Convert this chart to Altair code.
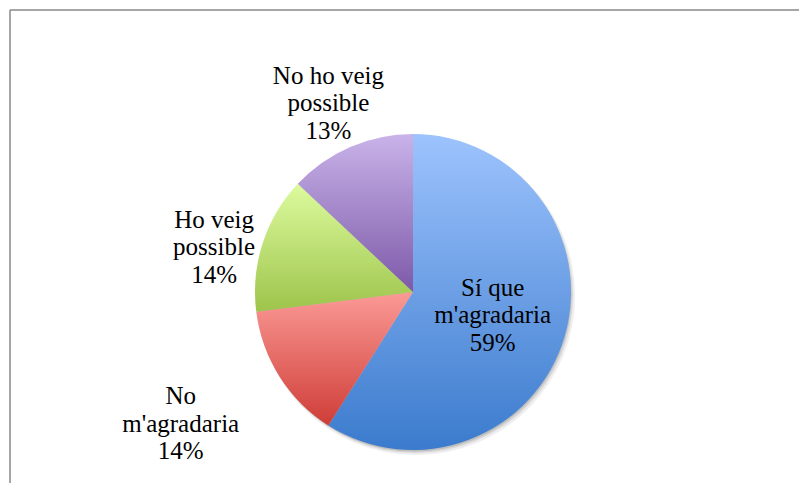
import altair as alt
import pandas as pd

categories = ["Sí que m'agradaria", "No m'agradaria", "Ho veig possible", "No ho veig possible"]
values = [59, 14, 14, 13]
label_text = ["Sí que\nm'agradaria\n59%", "No\nm'agradaria\n14%", "Ho veig\npossible\n14%", "No ho veig\npossible\n13%"]
order = [0, 1, 2, 3]

top_colors = ["#9dc3fd", "#fb9a96", "#dcfb9e", "#c9b3e9"]
bottom_colors = ["#3b7bcd", "#cf3d37", "#9ec44b", "#7d59a8"]

# label placement (style): radius from the centre, and fine offsets
label_radius = [83, 268, 206, 208]
label_dx = [0, -6, -3, -2]
label_dy = [0, -12, 19, 2]

df = pd.DataFrame({"cat": categories, "value": values, "label": label_text, "order": order})

W, H = 791, 475
CX, CY = 405, 284
R = 158
LH = 27.5

base = alt.Chart(df).transform_stack(
    stack="value", as_=["start", "end"], groupby=[], sort=[alt.SortField("order", order="ascending")]
).transform_calculate(mid="(datum.start + datum.end) / 2")

tscale = alt.Scale(domain=[0, 100], range=[0, 6.283185307])

layers = []

# soft shadow under the pie
shadow_data = alt.Chart(pd.DataFrame({"s": [0]}))
for dx, dy, op, rr in [(3, 4, 0.10, R + 1), (2, 3, 0.15, R), (1, 2, 0.2, R - 0.5)]:
    layers.append(
        shadow_data.mark_arc(color="#555555", opacity=op, radius=rr).encode(
            theta=alt.value(0), theta2=alt.value(6.283185307),
            x=alt.value(CX + dx), y=alt.value(CY + dy)
        )
    )

for i, c in enumerate(categories):
    grad = alt.Gradient(
        gradient="linear",
        stops=[alt.GradientStop(color=top_colors[i], offset=0), alt.GradientStop(color=bottom_colors[i], offset=1)],
        x1=0, x2=0, y1=0, y2=1,
    )
    layers.append(
        base.transform_filter(alt.datum.cat == c).mark_arc(color=grad, radius=R).encode(
            theta=alt.Theta("start:Q", scale=tscale, stack=None),
            theta2="end:Q",
            x=alt.value(CX), y=alt.value(CY),
        )
    )

for i, c in enumerate(categories):
    layers.append(
        base.transform_filter(alt.datum.cat == c).mark_text(
            radius=label_radius[i], font="Liberation Serif", fontSize=25, color="#000000",
            lineBreak="\n", lineHeight=LH, align="center", baseline="middle",
            dx=label_dx[i], dy=-LH + label_dy[i],
        ).encode(
            theta=alt.Theta("mid:Q", scale=tscale, stack=None),
            text="label:N",
            x=alt.value(CX), y=alt.value(CY),
        )
    )

frame = alt.Chart(pd.DataFrame({"f": [0]}))
layers.append(frame.mark_rule(color="#888888", strokeWidth=1.5).encode(
    x=alt.value(2), y=alt.value(2), y2=alt.value(H)))
layers.append(frame.mark_rule(color="#888888", strokeWidth=1.5).encode(
    x=alt.value(2), x2=alt.value(W), y=alt.value(2)))

chart = alt.layer(*layers).properties(
    width=W, height=H, autosize=alt.AutoSizeParams(type="none"), padding=0
).configure_view(stroke=None)

chart.save("out.html", embed_options={"renderer": "svg", "actions": False})
